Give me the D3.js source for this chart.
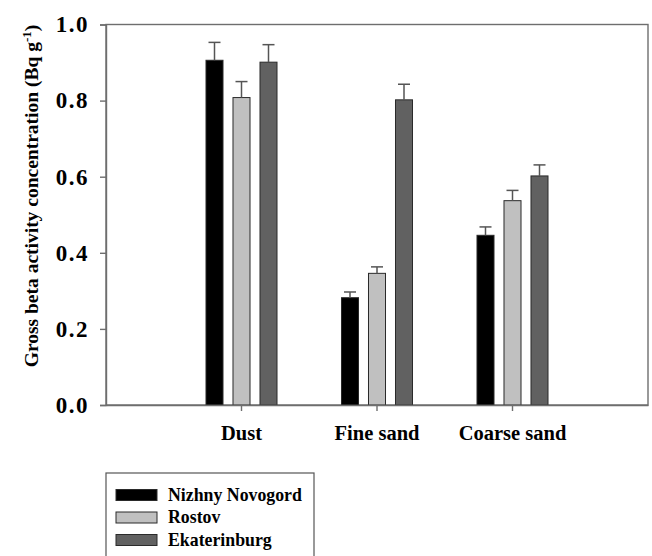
<!DOCTYPE html>
<html><head><meta charset="utf-8">
<script src="https://cdn.jsdelivr.net/npm/d3@7/dist/d3.min.js"></script>
<style>
body{margin:0;background:#fff;}
svg{display:block;}
svg text{font-family:"Liberation Serif","Tinos","Times New Roman","Times","DejaVu Serif","Noto Serif",serif !important;font-weight:bold;}
</style></head>
<body><svg id="c" width="652" height="556"></svg>
<script>
const categories = ["Dust", "Fine sand", "Coarse sand"];
const series = ["Nizhny Novogord", "Rostov", "Ekaterinburg"];
const values = {
  "Nizhny Novogord": [0.906, 0.282, 0.446],
  "Rostov":          [0.808, 0.346, 0.537],
  "Ekaterinburg":    [0.901, 0.802, 0.602]
};
const errors = {
  "Nizhny Novogord": [0.047, 0.015, 0.022],
  "Rostov":          [0.042, 0.017, 0.027],
  "Ekaterinburg":    [0.046, 0.041, 0.029]
};
const yTicks = [0.0, 0.2, 0.4, 0.6, 0.8, 1.0];
const colors = ["#000000", "#c0c0c0", "#616161"];

const svg = d3.select("#c");
const L = 106, R = 648, T = 24.5, B = 405;

const x = d3.scaleBand().domain(categories).range([L, R]).paddingInner(0).paddingOuter(0.5);
const xs = d3.scaleBand().domain(series).range([-40.5, 40.5]).paddingInner(0.37).paddingOuter(0.185);
const y = d3.scaleLinear().domain([0, 1]).range([B, T]);
const color = d3.scaleOrdinal().domain(series).range(colors);

const frameColor = "#6e6e6e";

svg.append("rect").attr("x", L).attr("y", T).attr("width", R - L).attr("height", B - T)
  .attr("fill", "none").attr("stroke", frameColor).attr("stroke-width", 1.4);

const data = [];
categories.forEach((c, i) => series.forEach(s => data.push({c, s, v: values[s][i], e: errors[s][i]})));

const g = svg.append("g");
g.selectAll("rect.bar").data(data).enter().append("rect")
  .attr("class", "bar")
  .attr("x", d => x(d.c) + x.bandwidth() / 2 + xs(d.s))
  .attr("y", d => y(d.v))
  .attr("width", xs.bandwidth())
  .attr("height", d => y(0) - y(d.v))
  .attr("fill", d => color(d.s))
  .attr("stroke", "#2a2a2a").attr("stroke-width", 1);

const eg = g.selectAll("g.err").data(data).enter().append("g").attr("class", "err")
  .attr("stroke", "#555").attr("stroke-width", 1.5);
eg.append("line")
  .attr("x1", d => x(d.c) + x.bandwidth() / 2 + xs(d.s) + xs.bandwidth() / 2)
  .attr("x2", d => x(d.c) + x.bandwidth() / 2 + xs(d.s) + xs.bandwidth() / 2)
  .attr("y1", d => y(d.v)).attr("y2", d => y(d.v + d.e));
eg.append("line")
  .attr("x1", d => x(d.c) + x.bandwidth() / 2 + xs(d.s) + xs.bandwidth() / 2 - 6)
  .attr("x2", d => x(d.c) + x.bandwidth() / 2 + xs(d.s) + xs.bandwidth() / 2 + 6)
  .attr("y1", d => y(d.v + d.e)).attr("y2", d => y(d.v + d.e));

const yAxis = svg.append("g").attr("transform", `translate(${L},0)`)
  .call(d3.axisLeft(y).tickValues(yTicks).tickFormat(d3.format(".1f")).tickSize(6).tickPadding(11));
yAxis.attr("font-family", null);
yAxis.select(".domain").attr("stroke", frameColor).attr("stroke-width", 1.4);
yAxis.selectAll(".tick line").attr("stroke", frameColor).attr("stroke-width", 1.4);
yAxis.selectAll(".tick text").attr("fill", "#000").attr("font-size", 23).attr("letter-spacing", 1.5);

const xAxis = svg.append("g").attr("transform", `translate(0,${B})`)
  .call(d3.axisBottom(x).tickSize(6).tickPadding(0).tickSizeOuter(0));
xAxis.attr("font-family", null);
xAxis.select(".domain").attr("stroke", frameColor).attr("stroke-width", 1.4);
xAxis.selectAll(".tick line").attr("stroke", frameColor).attr("stroke-width", 1.4);
xAxis.selectAll(".tick text").attr("fill", "#000").attr("font-size", 20.5)
  .attr("dy", null).attr("y", 35);

const yt = svg.append("text")
  .attr("transform", "translate(38,196) rotate(-90)")
  .attr("text-anchor", "middle").attr("font-size", 19.5).attr("fill", "#000");
yt.append("tspan").text("Gross beta activity concentration (Bq g");
yt.append("tspan").attr("baseline-shift", "super").attr("font-size", 13).text("-1");
yt.append("tspan").text(")");

const lg = svg.append("g");
lg.append("rect").attr("x", 106).attr("y", 473).attr("width", 208).attr("height", 100)
  .attr("fill", "#fff").attr("stroke", "#555").attr("stroke-width", 1.2);
series.forEach((s, i) => {
  const yy = 489.5 + i * 22.5;
  lg.append("rect").attr("x", 116).attr("y", yy).attr("width", 41).attr("height", 11)
    .attr("fill", color(s)).attr("stroke", "#2a2a2a").attr("stroke-width", 1);
  lg.append("text").attr("x", 168).attr("y", yy + 11).attr("font-size", 17.8).attr("fill", "#000").text(s);
});
</script></body></html>
